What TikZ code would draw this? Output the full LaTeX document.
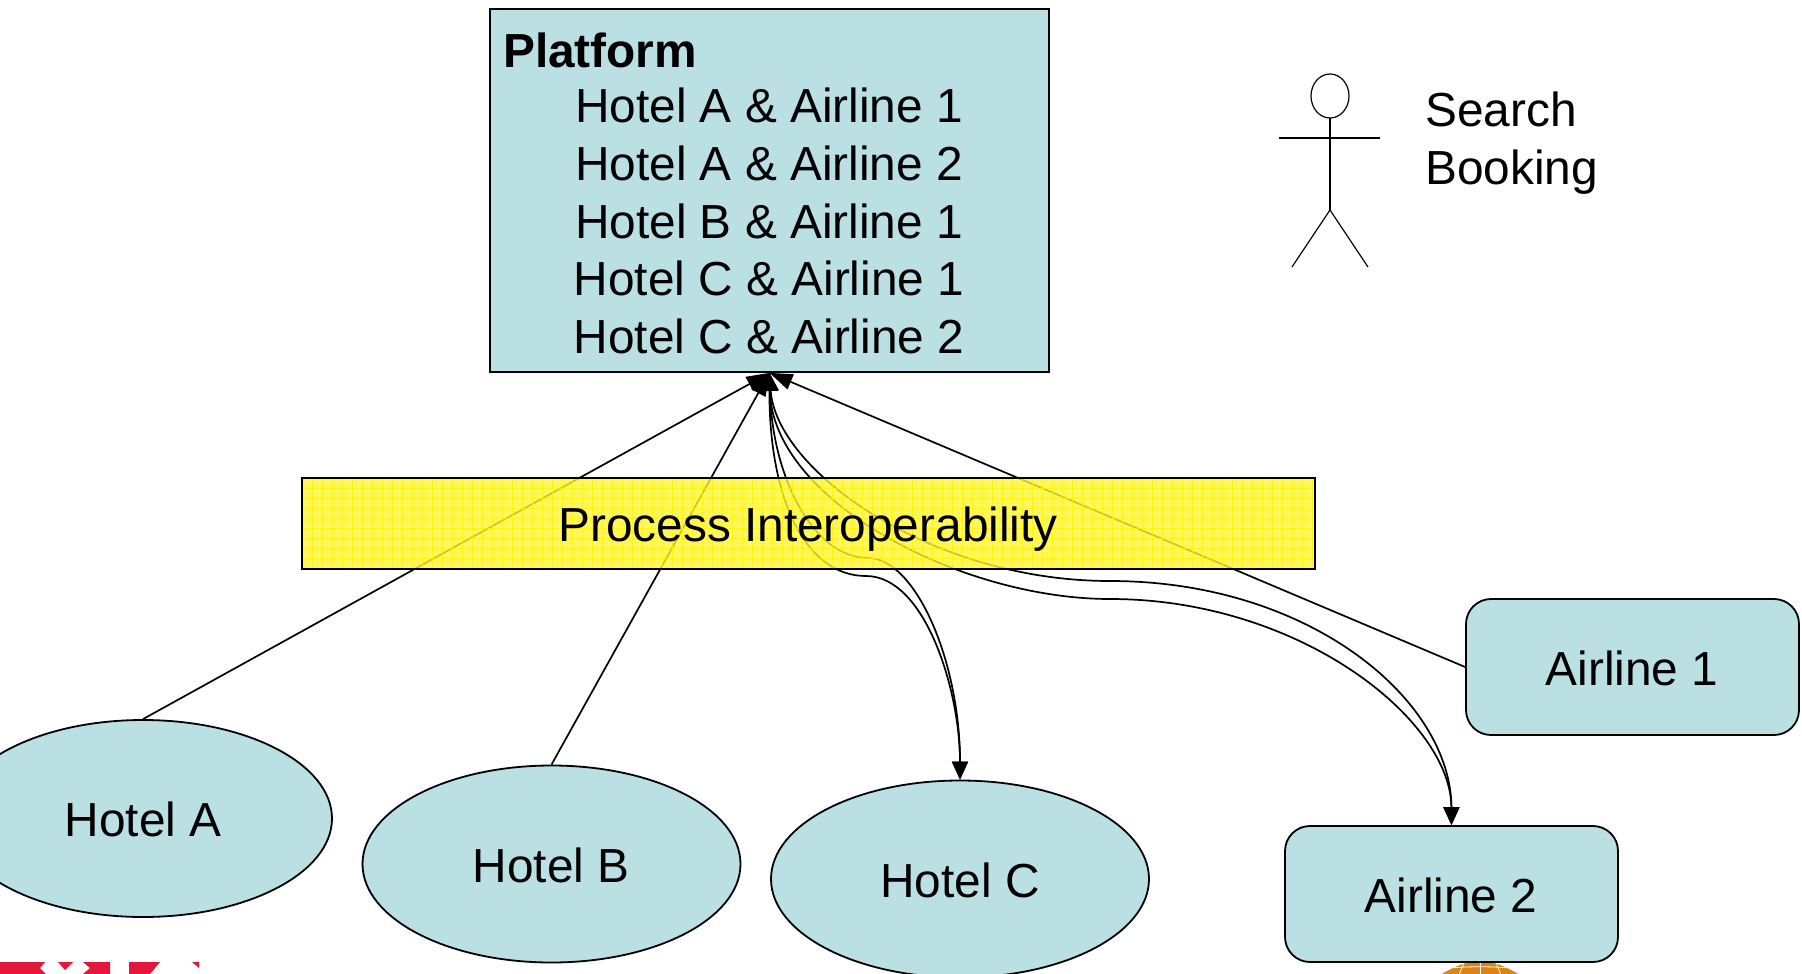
\documentclass[tikz,border=0pt]{standalone}
\usepackage{fontspec}
\setmainfont{Liberation Sans}
\usetikzlibrary{arrows.meta,shapes.geometric}
\definecolor{boxfill}{HTML}{BAE0E3}
\definecolor{logored}{HTML}{E4163A}
\definecolor{globeorange}{HTML}{DC8410}
\tikzset{
  x=1pt,y=-1pt,
  every node/.style={font=\fontsize{47.8}{57.5}\selectfont,text=black},
  shapebox/.style={draw=black,line width=1.8pt,fill=boxfill,inner sep=0pt},
  hotel/.style={shapebox,ellipse},
  airline/.style={shapebox,rounded corners=25pt,rectangle},
  link/.style={line width=1.7pt,draw=black},
  tip/.style={-{Triangle[length=18pt,width=16pt]}},
  longtip/.style={-{Triangle[length=23pt,width=16pt]}},
  backtip/.style={{Triangle[length=18pt,width=16pt]}-},
  txt/.style={anchor=base,inner sep=0pt},
}
\begin{document}
\begin{tikzpicture}
\clip (0,0) rectangle (1802,974);
\fill[white] (0,0) rectangle (1802,974);
% bottom edge fragments
\fill[logored] (0,962) -- (45,962) -- (40,968) -- (46,974) -- (0,974) -- cycle;
\fill[logored] (58,962) -- (73,962) -- (65,970) -- cycle;
\fill[logored] (83,962) -- (110,962) -- (110,974) -- (83,974) -- (90,968) -- cycle;
\fill[logored] (129,962) -- (160,962) -- (150,974) -- (129,974) -- cycle;
\fill[logored] (192,962) -- (199,962) -- (199,968) -- cycle;
\fill[globeorange] (1442,974) .. controls (1455,966) and (1468,961) .. (1480,961) .. controls (1492,961) and (1505,966) .. (1518,974) -- cycle;
\begin{scope}
\clip (1442,974) .. controls (1455,966) and (1468,961) .. (1480,961) .. controls (1492,961) and (1505,966) .. (1518,974) -- cycle;
\foreach \xx in {1450,1465,1480,1495,1510}{\draw[white,line width=.8pt] (\xx,960) -- ({\xx+(\xx-1480)*.4},975);}
\draw[white,line width=.8pt] (1440,969) .. controls (1465,966) and (1495,966) .. (1520,969);
\end{scope}
\node[shapebox,rectangle,minimum width=559pt,minimum height=363pt] (plat) at (769.5,190.5) {};
\node[hotel,minimum width=378pt,minimum height=197pt] (hotela) at (143,818.5) {};
\node[hotel,minimum width=378pt,minimum height=197pt] (hotelb) at (551.5,864) {};
\node[hotel,minimum width=378pt,minimum height=197pt] (hotelc) at (960,879) {};
\node[airline,minimum width=333pt,minimum height=136pt] (air1) at (1632.5,667) {};
\node[airline,minimum width=333pt,minimum height=136pt] (air2) at (1451.5,894) {};
\coordinate (cmidA) at (866,576);
\coordinate (cmidB) at (868,558);
\coordinate (amidA) at (1110,599);
\coordinate (amidB) at (1110,581);
% connectors
\draw[link,longtip] (hotela.north) -- (plat.south);
\draw[link,longtip] (hotelb.north) -- (plat.south);
\draw[link,longtip] (air1.west) -- (plat.south);
\draw[link,backtip] (plat.south) .. controls (769,500) and (806,576) .. (cmidA);
\draw[link,tip] (cmidA) .. controls (925,576) and (960,690) .. (hotelc.north);
\draw[link,backtip] (plat.south) .. controls (772,480) and (815,558) .. (cmidB);
\draw[link,tip] (cmidB) .. controls (915,558) and (960,660) .. (hotelc.north);
\draw[link,backtip] (plat.south) .. controls (772,500) and (960,599) .. (amidA);
\draw[link,tip] (amidA) .. controls (1300,599) and (1451,720) .. (air2.north);
\draw[link,backtip] (plat.south) .. controls (776,470) and (930,581) .. (amidB);
\draw[link,tip] (amidB) .. controls (1310,581) and (1451,700) .. (air2.north);
% translucent yellow band
\fill[yellow!80!white,fill opacity=.8] (302,478) rectangle (1315,569);
\begin{scope}
\clip (302,478) rectangle (1315,569);
\foreach \xx in {302,312,...,1315}{\draw[yellow,opacity=.7,line width=.9pt] (\xx,478) -- (\xx,569);}
\foreach \yy in {478,488,...,569}{\draw[yellow,opacity=.7,line width=.9pt] (302,\yy) -- (1315,\yy);}
\end{scope}
\node[draw=black,line width=1.8pt,minimum width=1013pt,minimum height=91pt,inner sep=0pt] (band) at (808.5,523.5) {};
% labels
\node[txt,anchor=base west] (ptitle) at (503,67) {\bfseries Platform};
\node[txt] (l1) at (769,122) {Hotel A \& Airline 1};
\node[txt] (l2) at (769,180) {Hotel A \& Airline 2};
\node[txt] (l3) at (769,238) {Hotel B \& Airline 1};
\node[txt] (l4) at (769,295) {Hotel C \& Airline 1};
\node[txt] (l5) at (769,353) {Hotel C \& Airline 2};
\node[txt] (bandt) at (808,541) {Process Interoperability};
\node[txt] (ta) at (143,836) {Hotel A};
\node[txt] (tb) at (551,882) {Hotel B};
\node[txt] (tc) at (960,897) {Hotel C};
\node[txt] (t1) at (1632,685) {Airline 1};
\node[txt] (t2) at (1451,912) {Airline 2};
\node[txt,anchor=base west] (search) at (1425,126) {Search};
\node[txt,anchor=base west] (book) at (1425,184) {Booking};
% actor
\draw[line width=1.2pt] (1330,96) ellipse (19 and 22);
\draw[line width=1.2pt] (1279,138) -- (1380,138);
\draw[line width=1.2pt] (1330,118) -- (1330,210);
\draw[line width=1.2pt] (1292,267) -- (1330,210) -- (1368,267);
\end{tikzpicture}
\end{document}
